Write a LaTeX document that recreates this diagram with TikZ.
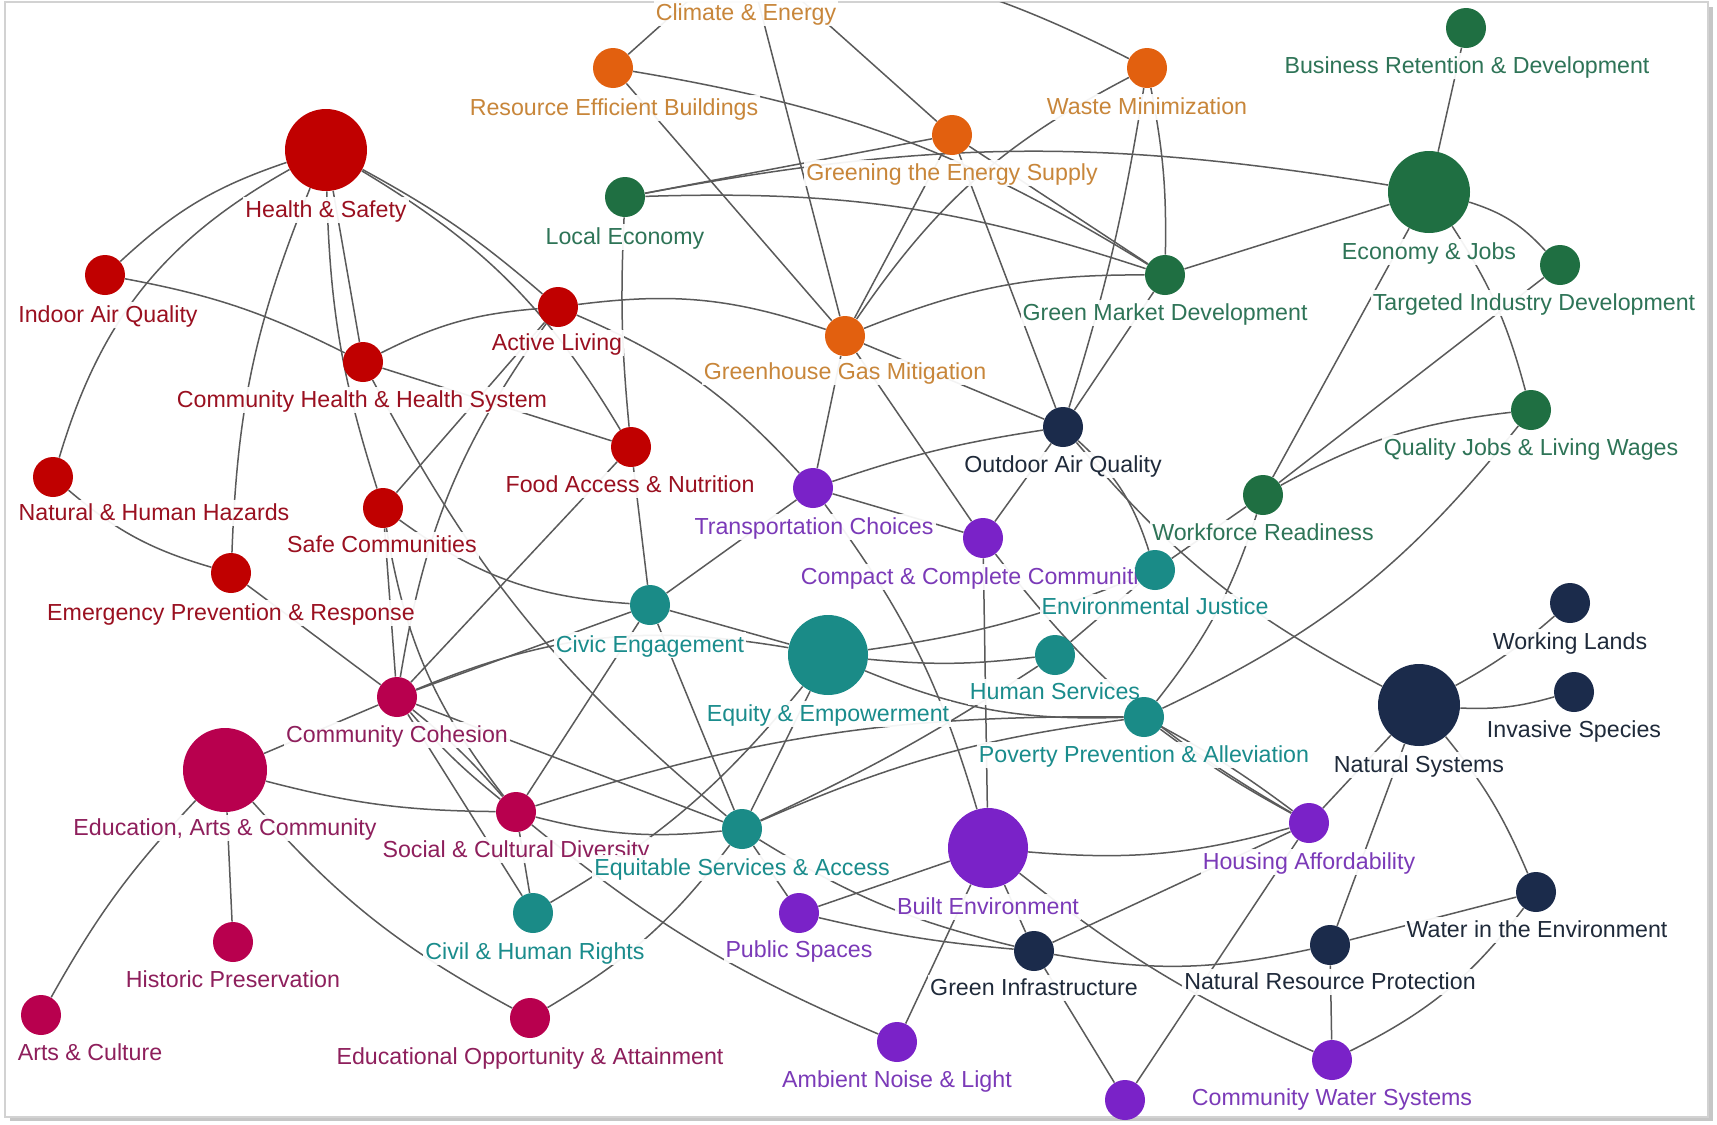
\documentclass[tikz,border=0pt]{standalone}
\usepackage{fontspec}
\newfontfamily\lblfont{Liberation Sans}
\pgfdeclarelayer{frame}
\pgfdeclarelayer{edges}
\pgfdeclarelayer{labels}
\pgfsetlayers{frame,edges,labels,main}
\definecolor{edgec}{HTML}{5A5A5A}
\definecolor{hsC}{HTML}{C00000}\definecolor{hsT}{HTML}{9A1020}
\definecolor{edC}{HTML}{B8004E}\definecolor{edT}{HTML}{8E1F5C}
\definecolor{orC}{HTML}{E2600F}\definecolor{orT}{HTML}{C8863A}
\definecolor{grC}{HTML}{1F6F42}\definecolor{grT}{HTML}{2E7457}
\definecolor{tlC}{HTML}{1A8B87}\definecolor{tlT}{HTML}{1A8C8C}
\definecolor{puC}{HTML}{7A22C8}\definecolor{puT}{HTML}{7B3AB8}
\definecolor{nvC}{HTML}{1B2B4B}\definecolor{nvT}{HTML}{1F2A3A}
\tikzset{
  e/.style={draw=edgec, line width=0.75pt},
  vr/.style={bend right=#1}, vl/.style={bend left=#1},
  dot/.style={circle, inner sep=0pt, minimum size=#1},
  lab/.style={font=\lblfont\fontsize{11.6}{13}\selectfont, fill=white, fill opacity=0.93, text opacity=1,
    inner sep=1pt, text height=0.92em, text depth=0.2em, anchor=center},
}
\begin{document}
\begin{tikzpicture}[x=0.5pt,y=-0.5pt]
\useasboundingbox (0,0) rectangle (1717,1124);
\begin{pgfonlayer}{frame}
\fill[gray!45] (10,7) rectangle (1713,1121);
\fill[white, draw=gray!35, line width=0.6pt] (5,2) rectangle (1708,1117);
\end{pgfonlayer}
% ---------- circles ----------
% health
\node[dot=41pt, fill=hsC] (HS) at (326,150) {};
\node[dot=20pt, fill=hsC] (IAQ) at (105,275) {};
\node[dot=20pt, fill=hsC] (CHHS) at (363,362) {};
\node[dot=20pt, fill=hsC] (AL) at (558,307) {};
\node[dot=20pt, fill=hsC] (FAN) at (631,447) {};
\node[dot=20pt, fill=hsC] (NHH) at (53,477) {};
\node[dot=20pt, fill=hsC] (SC) at (383,508) {};
\node[dot=20pt, fill=hsC] (EPR) at (231,573) {};
% education
\node[dot=20pt, fill=edC] (CC) at (397,697) {};
\node[dot=42pt, fill=edC] (EAC) at (225,770) {};
\node[dot=20pt, fill=edC] (HP) at (233,942) {};
\node[dot=20pt, fill=edC] (AC) at (41,1015) {};
\node[dot=20pt, fill=edC] (SCD) at (516,812) {};
\node[dot=20pt, fill=edC] (EOA) at (530,1018) {};
% equity
\node[dot=20pt, fill=tlC] (CHR) at (533,913) {};
\node[dot=20pt, fill=tlC] (ESA) at (742,829) {};
\node[dot=20pt, fill=tlC] (CE) at (650,605) {};
\node[dot=40pt, fill=tlC] (EE) at (828,655) {};
\node[dot=20pt, fill=tlC] (EJ) at (1155,570) {};
\node[dot=20pt, fill=tlC] (HSv) at (1055,655) {};
\node[dot=20pt, fill=tlC] (PPA) at (1144,717) {};
% built env
\node[dot=20pt, fill=puC] (PS) at (799,913) {};
\node[dot=20pt, fill=puC] (ANL) at (897,1042) {};
\node[dot=40pt, fill=puC] (BE) at (988,848) {};
\node[dot=20pt, fill=puC] (BP) at (1125,1100) {};
\node[dot=20pt, fill=puC] (CWS) at (1332,1060) {};
\node[dot=20pt, fill=puC] (HA) at (1309,823) {};
\node[dot=20pt, fill=puC] (CCC) at (983,538) {};
\node[dot=20pt, fill=puC] (TC) at (813,488) {};
% natural
\node[dot=20pt, fill=nvC] (GI) at (1034,951) {};
\node[dot=20pt, fill=nvC] (NRP) at (1330,945) {};
\node[dot=20pt, fill=nvC] (WIE) at (1536,892) {};
\node[dot=41pt, fill=nvC] (NS) at (1419,705) {};
\node[dot=20pt, fill=nvC] (WL) at (1570,603) {};
\node[dot=20pt, fill=nvC] (IS) at (1574,692) {};
\node[dot=20pt, fill=nvC] (OAQ) at (1063,427) {};
% economy
\node[dot=20pt, fill=grC] (QJ) at (1531,410) {};
\node[dot=20pt, fill=grC] (WR) at (1263,495) {};
\node[dot=20pt, fill=grC] (GMD) at (1165,275) {};
\node[dot=41pt, fill=grC] (EJobs) at (1429,192) {};
\node[dot=20pt, fill=grC] (BRD) at (1466,28) {};
\node[dot=20pt, fill=grC] (TID) at (1560,265) {};
\node[dot=20pt, fill=grC] (LE) at (625,197) {};
% climate
\node[dot=20pt, fill=orC] (GGM) at (845,336) {};
\node[dot=20pt, fill=orC] (WM) at (1147,68) {};
\node[dot=20pt, fill=orC] (GES) at (952,135) {};
\node[dot=20pt, fill=orC] (REB) at (613,68) {};
\coordinate (CEn) at (745,-50);
% ---------- labels ----------
\begin{pgfonlayer}{labels}
\node[lab, text=hsT] (HSl) at (326,210) {Health \& Safety};
\node[lab, text=hsT] (IAQl) at (108,315) {Indoor Air Quality};
\node[lab, text=hsT] (CHHSl) at (362,400) {Community Health \& Health System};
\node[lab, text=hsT] (ALl) at (557,343) {Active Living};
\node[lab, text=hsT] (FANl) at (630,485) {Food Access \& Nutrition};
\node[lab, text=hsT] (NHHl) at (154,513) {Natural \& Human Hazards};
\node[lab, text=hsT] (SCl) at (382,545) {Safe Communities};
\node[lab, text=hsT] (EPRl) at (231,613) {Emergency Prevention \& Response};
\node[lab, text=edT] (CCl) at (397,735) {Community Cohesion};
\node[lab, text=edT] (EACl) at (225,828) {Education, Arts \& Community};
\node[lab, text=edT] (HPl) at (233,980) {Historic Preservation};
\node[lab, text=edT] (ACl) at (90,1053) {Arts \& Culture};
\node[lab, text=edT] (SCDl) at (516,850) {Social \& Cultural Diversity};
\node[lab, text=tlT] (CHRl) at (535,952) {Civil \& Human Rights};
\node[lab, text=edT] (EOAl) at (530,1057) {Educational Opportunity \& Attainment};
\node[lab, text=tlT] (ESAl) at (742,868) {Equitable Services \& Access};
\node[lab, text=puT] (PSl) at (799,950) {Public Spaces};
\node[lab, text=puT] (ANLl) at (897,1080) {Ambient Noise \& Light};
\node[lab, text=puT] (BEl) at (988,907) {Built Environment};
\node[lab, text=nvT] (GIl) at (1034,988) {Green Infrastructure};
\node[lab, text=puT] (CWSl) at (1332,1098) {Community Water Systems};
\node[lab, text=nvT] (NRPl) at (1330,982) {Natural Resource Protection};
\node[lab, text=nvT] (WIEl) at (1537,930) {Water in the Environment};
\node[lab, text=puT] (HAl) at (1309,862) {Housing Affordability};
\node[lab, text=nvT] (NSl) at (1419,765) {Natural Systems};
\node[lab, text=nvT] (WLl) at (1570,642) {Working Lands};
\node[lab, text=nvT] (ISl) at (1574,730) {Invasive Species};
\node[lab, text=grT] (QJl) at (1531,448) {Quality Jobs \& Living Wages};
\node[lab, text=grT] (WRl) at (1263,533) {Workforce Readiness};
\node[lab, text=puT] (CCCl) at (982,577) {Compact \& Complete Communities};
\node[lab, text=tlT] (EJl) at (1155,607) {Environmental Justice};
\node[lab, text=tlT] (HSvl) at (1055,692) {Human Services};
\node[lab, text=tlT] (PPAl) at (1144,755) {Poverty Prevention \& Alleviation};
\node[lab, text=puT] (TCl) at (814,527) {Transportation Choices};
\node[lab, text=tlT] (CEl) at (650,645) {Civic Engagement};
\node[lab, text=tlT] (EEl) at (828,714) {Equity \& Empowerment};
\node[lab, text=nvT] (OAQl) at (1063,465) {Outdoor Air Quality};
\node[lab, text=orT] (GGMl) at (845,372) {Greenhouse Gas Mitigation};
\node[lab, text=grT] (GMDl) at (1165,313) {Green Market Development};
\node[lab, text=grT] (EJobsl) at (1429,252) {Economy \& Jobs};
\node[lab, text=grT] (BRDl) at (1467,66) {Business Retention \& Development};
\node[lab, text=grT] (TIDl) at (1534,303) {Targeted Industry Development};
\node[lab, text=orT] (WMl) at (1147,107) {Waste Minimization};
\node[lab, text=orT] (GESl) at (952,173) {Greening the Energy Supply};
\node[lab, text=orT] (CEnl) at (746,13) {Climate \& Energy};
\node[lab, text=orT] (REBl) at (614,108) {Resource Efficient Buildings};
\node[lab, text=grT] (LEl) at (625,237) {Local Economy};
\end{pgfonlayer}
% ---------- edges ----------
\begin{pgfonlayer}{edges}
\begin{scope}
\clip (5,2) rectangle (1708,1117);
\draw[e] (HS) to[vr=12] (IAQ);
\draw[e] (HS) to[vr=22] (NHH);
\draw[e] (HS) to[vr=10] (EPR);
\draw[e] (HS) to (CHHS);
\draw[e] (HS) to[vr=8] (SC);
\draw[e] (HS) to[vl=6] (AL);
\draw[e] (HS) to[vl=14] (FAN);
\draw[e] (IAQ) to[vl=8] (CHHS);
\draw[e] (NHH) to[vr=12] (EPR);
\draw[e] (EPR) to (CC);
\draw[e] (CHHS) to[vl=11] (AL);
\draw[e] (AL) to[vl=13] (GGM);
\draw[e] (CHHS) to (FAN);
\draw[e] (LE) to[vr=4] (FAN);
\draw[e] (CHHS) to[vr=11] (ESA);
\draw[e] (SC) to (AL);
\draw[e] (SC) to[vr=16] (CE);
\draw[e] (SC) to (CC);
\draw[e] (SC) to[vr=14] (SCD);
\draw[e] (CC) to (EAC);
\draw[e] (CC) to (CE);
\draw[e] (CC) to[vl=16] (EE);
\draw[e] (CC) to[vl=13] (AL);
\draw[e] (CC) to (FAN);
\draw[e] (CC) to[vr=5] (SCD);
\draw[e] (CC) to[vl=5] (SCD);
\draw[e] (CC) to (CHR);
\draw[e] (CC) to (ESA);
\draw[e] (EAC) to[vr=7] (SCD);
\draw[e] (EAC) to (HP);
\draw[e] (EAC) to[vr=7] (AC);
\draw[e] (EAC) to[vr=10] (EOA);
\draw[e] (SCD) to[vr=10] (ESA);
\draw[e] (SCD) to (CE);
\draw[e] (SCD) to (CHR);
\draw[e] (SCD) to[vr=8] (ANL);
\draw[e] (SCD) to[vl=9] (PPA);
\draw[e] (CE) to (FAN);
\draw[e] (CE) to (TC);
\draw[e] (CE) to (ESA);
\draw[e] (CE) to (EE);
\draw[e] (EE) to[vr=7] (EJ);
\draw[e] (EE) to[vr=6] (HSv);
\draw[e] (EE) to[vr=12] (PPA);
\draw[e] (EE) to (ESA);
\draw[e] (EE) to[vl=10] (CHR);
\draw[e] (EOA) to[vr=11] (ESA);
\draw[e] (ESA) to (PS);
\draw[e] (ESA) to[vr=9] (GI);
\draw[e] (ESA) to[vl=8] (PPA);
\draw[e] (ESA) to[vr=4] (HSv);
\draw[e] (PS) to[vr=4] (GI);
\draw[e] (PS) to (BE);
\draw[e] (BE) to (ANL);
\draw[e] (BE) to[vr=10] (HA);
\draw[e] (BE) to (GI);
\draw[e] (BE) to[vr=7] (CWS);
\draw[e] (GI) to (BP);
\draw[e] (BP) to (HA);
\draw[e] (GI) to (HA);
\draw[e] (GI) to[vr=11] (NRP);
\draw[e] (NRP) to (NS);
\draw[e] (NRP) to (WIE);
\draw[e] (NRP) to (CWS);
\draw[e] (CWS) to[vr=13] (WIE);
\draw[e] (WIE) to[vr=8] (NS);
\draw[e] (HA) to (NS);
\draw[e] (PPA) to[vr=4] (HA);
\draw[e] (PPA) to[vl=4] (HA);
\draw[e] (NS) to[vr=6] (WL);
\draw[e] (NS) to[vr=9] (IS);
\draw[e] (OAQ) to[vr=11] (NS);
\draw[e] (OAQ) to[vl=15] (EJ);
\draw[e] (OAQ) to (CCC);
\draw[e] (OAQ) to[vr=5] (TC);
\draw[e] (GES) to (OAQ);
\draw[e] (WM) to[vl=4] (OAQ);
\draw[e] (GMD) to (OAQ);
\draw[e] (GGM) to (OAQ);
\draw[e] (GMD) to (EJobs);
\draw[e] (WM) to[vl=6] (GMD);
\draw[e] (GGM) to[vl=11] (GMD);
\draw[e] (GES) to (GMD);
\draw[e] (REB) to[vl=11] (GMD);
\draw[e] (REB) to (GGM);
\draw[e] (CEn) to (REB);
\draw[e] (CEn) to (GGM);
\draw[e] (CEn) to (GES);
\draw[e] (CEn) to[vl=11] (WM);
\draw[e] (LE) to (GES);
\draw[e] (LE) to[vl=10] (GMD);
\draw[e] (LE) to[vl=10] (EJobs);
\draw[e] (BRD) to (EJobs);
\draw[e] (EJobs) to[vl=15] (TID);
\draw[e] (EJobs) to (WR);
\draw[e] (TID) to (WR);
\draw[e] (EJobs) to[vl=9] (QJ);
\draw[e] (WR) to[vl=11] (QJ);
\draw[e] (WR) to (EJ);
\draw[e] (WR) to[vl=10] (PPA);
\draw[e] (QJ) to[vl=13] (PPA);
\draw[e] (EJ) to (HSv);
\draw[e] (CCC) to[vr=11] (HA);
\draw[e] (TC) to (CCC);
\draw[e] (TC) to[vl=10] (BE);
\draw[e] (TC) to (GGM);
\draw[e] (AL) to[vl=12] (TC);
\draw[e] (CCC) to (BE);
\draw[e] (GGM) to (CCC);
\draw[e] (GES) to (GGM);
\draw[e] (WM) to[vr=14] (GGM);
\end{scope}
\end{pgfonlayer}
\end{tikzpicture}
\end{document}
